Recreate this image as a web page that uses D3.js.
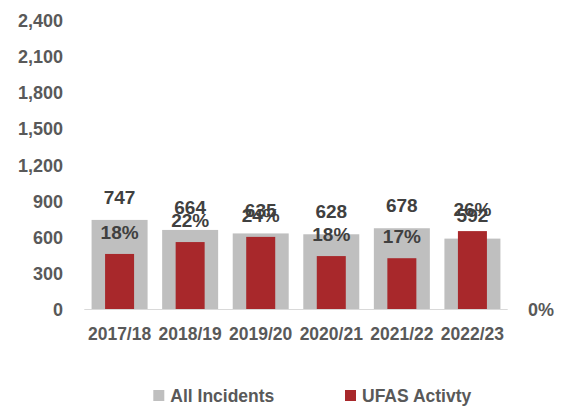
<!DOCTYPE html>
<html>
<head>
<script src="https://d3js.org/d3.v7.min.js"></script>
<style>
  body { margin: 0; background: #fff; }
  text { font-family: "Liberation Sans", Arial, sans-serif; font-weight: bold; }
</style>
</head>
<body>
<div id="chart"></div>
<script>
var years = ["2017/18", "2018/19", "2019/20", "2020/21", "2021/22", "2022/23"];
var allIncidents = [747, 664, 635, 628, 678, 592];
var ufasShare = [0.184, 0.223, 0.24, 0.177, 0.17, 0.259];
var leftTicks = [0, 300, 600, 900, 1200, 1500, 1800, 2100, 2400];

var width = 563, height = 407;
var svg = d3.select("#chart").append("svg")
    .attr("width", width)
    .attr("height", height);

var x = d3.scaleBand().domain(years).range([84.3, 507.7]).padding(0);
var y = d3.scaleLinear().domain([0, 2400]).range([310, 20.6]);
var y2 = d3.scaleLinear().domain([0, 0.95]).range([310, 20.6]);

var grayW = 56, redW = 29;

// left axis labels
svg.selectAll(".ytick")
    .data(leftTicks)
    .enter().append("text")
    .attr("x", 63)
    .attr("y", function(d) { return y(d); })
    .attr("dy", "0.35em")
    .attr("text-anchor", "end")
    .attr("font-size", "18px")
    .attr("fill", "#595959")
    .text(d3.format(","));

// right axis: only 0%
svg.append("text")
    .attr("x", 528)
    .attr("y", y2(0))
    .attr("dy", "0.35em")
    .attr("font-size", "18px")
    .attr("fill", "#595959")
    .text(d3.format(".0%")(0));

// gray bars
svg.selectAll(".all")
    .data(allIncidents)
    .enter().append("rect")
    .attr("x", function(d, i) { return x(years[i]) + x.bandwidth() / 2 - grayW / 2; })
    .attr("y", function(d) { return y(d); })
    .attr("width", grayW)
    .attr("height", function(d) { return y(0) - y(d); })
    .attr("fill", "#BFBFBF");

// red bars
svg.selectAll(".ufas")
    .data(ufasShare)
    .enter().append("rect")
    .attr("x", function(d, i) { return x(years[i]) + x.bandwidth() / 2 - redW / 2; })
    .attr("y", function(d) { return y2(d); })
    .attr("width", redW)
    .attr("height", function(d) { return y2(0) - y2(d); })
    .attr("fill", "#A8282B");

// baseline
svg.append("line")
    .attr("x1", 84.3).attr("x2", 507.7)
    .attr("y1", 309.5).attr("y2", 309.5)
    .attr("stroke", "#D9D9D9")
    .attr("stroke-width", 1);

// x labels
svg.selectAll(".xlab")
    .data(years)
    .enter().append("text")
    .attr("x", function(d) { return x(d) + x.bandwidth() / 2; })
    .attr("y", 333.5)
    .attr("dy", "0.35em")
    .attr("text-anchor", "middle")
    .attr("font-size", "17.5px")
    .attr("fill", "#595959")
    .text(function(d) { return d; });

// value labels
svg.selectAll(".alllab")
    .data(allIncidents)
    .enter().append("text")
    .attr("x", function(d, i) { return x(years[i]) + x.bandwidth() / 2; })
    .attr("y", function(d) { return y(d) - 23; })
    .attr("dy", "0.35em")
    .attr("text-anchor", "middle")
    .attr("font-size", "19px")
    .attr("fill", "#404040")
    .text(function(d) { return d; });

svg.selectAll(".ufaslab")
    .data(ufasShare)
    .enter().append("text")
    .attr("x", function(d, i) { return x(years[i]) + x.bandwidth() / 2; })
    .attr("y", function(d) { return y2(d) - 22; })
    .attr("dy", "0.35em")
    .attr("text-anchor", "middle")
    .attr("font-size", "19px")
    .attr("fill", "#404040")
    .text(function(d) { return d3.format(".0%")(d); });

// legend
var legend = [
    { name: "All Incidents", color: "#BFBFBF", x: 153.3 },
    { name: "UFAS Activty", color: "#A8282B", x: 345 }
];
var lg = svg.selectAll(".leg")
    .data(legend)
    .enter().append("g")
    .attr("transform", function(d) { return "translate(" + d.x + ",390)"; });
lg.append("rect")
    .attr("width", 11).attr("height", 11)
    .attr("fill", function(d) { return d.color; });
lg.append("text")
    .attr("x", 17)
    .attr("y", 5.5)
    .attr("dy", "0.35em")
    .attr("font-size", "17.5px")
    .attr("fill", "#595959")
    .text(function(d) { return d.name; });
</script>
</body>
</html>
